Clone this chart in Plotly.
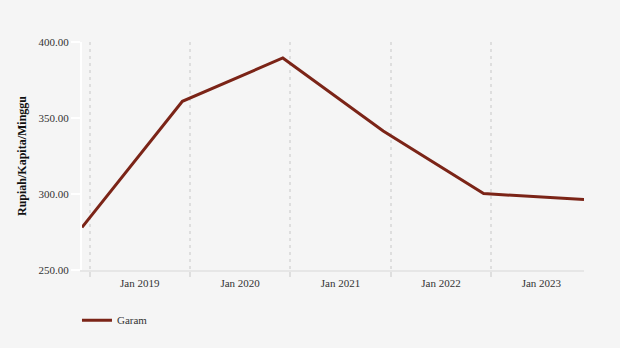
import plotly.graph_objects as go

# Data
years = [2018, 2019, 2020, 2021, 2022, 2023]
garam = [278.0, 361.0, 389.5, 341.5, 300.3, 296.3]
series_name = "Garam"
x_tick_labels = ["Jan 2019", "Jan 2020", "Jan 2021", "Jan 2022", "Jan 2023"]
x_tick_pos = [2018.575, 2019.575, 2020.575, 2021.575, 2022.575]
y_ticks = [250, 300, 350, 400]

fig = go.Figure()
fig.add_trace(go.Scatter(
    x=years, y=garam, mode="lines", name=series_name,
    line=dict(color="#7b2417", width=3),
    showlegend=True,
))

font_family = "Liberation Serif, Times New Roman, serif"

fig.update_layout(
    width=620, height=348,
    paper_bgcolor="#f5f5f5", plot_bgcolor="#f5f5f5",
    margin=dict(l=82, r=36, t=42, b=78, autoexpand=False),
    font=dict(family=font_family, size=11, color="#333333"),
    showlegend=True,
    legend=dict(orientation="h", x=-0.01, xanchor="left", y=-0.22, yanchor="middle",
                font=dict(family=font_family, size=11, color="#333333"),
                bgcolor="rgba(0,0,0,0)", itemwidth=30),
)

fig.update_xaxes(
    range=[2018, 2023],
    tickmode="array", tickvals=x_tick_pos, ticktext=x_tick_labels,
    showgrid=False, ticks="", zeroline=False,
    showline=True, linecolor="#e6e6e6", linewidth=2,
    tickfont=dict(family=font_family, size=11, color="#333333"),
    ticklabelstandoff=2,
    minor=dict(tick0=2018.075, dtick=1, showgrid=True, gridcolor="#dedede",
               griddash="3px,4px", gridwidth=1.5, ticks="outside", ticklen=5,
               tickcolor="#dedede", tickwidth=1.5),
)

fig.update_yaxes(
    range=[250, 400],
    tickmode="array", tickvals=y_ticks, tickformat=".2f",
    showgrid=False, zeroline=False,
    showline=True, linecolor="#ffffff", linewidth=2,
    ticks="outside", ticklen=9, tickcolor="#ffffff", tickwidth=2,
    tickfont=dict(family=font_family, size=11, color="#333333"),
    title=dict(text="<b>Rupiah/Kapita/Minggu</b>", standoff=9,
               font=dict(family=font_family, size=12, color="#111111")),
)

fig.write_html("out.html")
